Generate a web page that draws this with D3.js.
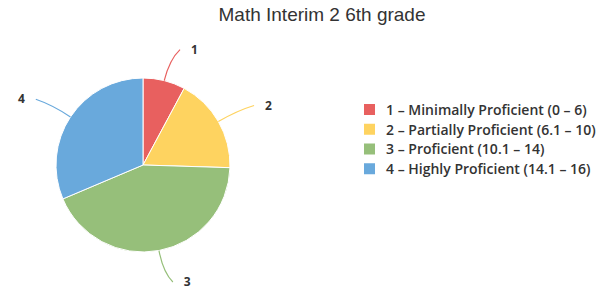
<!DOCTYPE html>
<html>
<head>
<meta charset="utf-8">
<script src="https://cdn.jsdelivr.net/npm/d3@7"></script>
<style>
  body { margin: 0; background: #fff; }
  svg { display: block; }
</style>
</head>
<body>
<svg id="chart"></svg>
<script>
const width = 615, height = 301;

// data
const categories = ["1", "2", "3", "4"];
const legendLabels = [
    "1 \u2013 Minimally Proficient (0 \u2013 6)",
    "2 \u2013 Partially Proficient (6.1 \u2013 10)",
    "3 \u2013 Proficient (10.1 \u2013 14)",
    "4 \u2013 Highly Proficient (14.1 \u2013 16)"
];
const counts = [4, 9, 22, 16];
const colors = ["#e8605f", "#fed360", "#96bf7a", "#69a9dc"];

const data = categories.map((c, i) => ({ id: c, label: legendLabels[i], value: counts[i], color: colors[i] }));

const svg = d3.select("#chart")
    .attr("width", width)
    .attr("height", height);

svg.append("text")
    .attr("x", 322)
    .attr("y", 21)
    .attr("text-anchor", "middle")
    .style("font-family", "Liberation Sans, Arial, sans-serif")
    .style("font-size", "19px")
    .style("fill", "#333")
    .text("Math Interim 2 6th grade");

const cx = 143, cy = 165, r = 87;

const pie = d3.pie().sort(null).value(d => d.value);
const arcs = pie(data);
const arc = d3.arc().innerRadius(0).outerRadius(r);

const g = svg.append("g").attr("transform", `translate(${cx},${cy})`);

g.selectAll("path.slice")
    .data(arcs)
    .join("path")
    .attr("class", "slice")
    .attr("d", arc)
    .attr("fill", d => d.data.color)
    .attr("stroke", "#fff")
    .attr("stroke-width", 1);

// point at radius rr along the slice's middle angle
const polar = (a, rr) => [rr * Math.sin(a), -rr * Math.cos(a)];

const conn = arcs.map(d => {
    const a = (d.startAngle + d.endAngle) / 2;
    const side = Math.sin(a) >= 0 ? 1 : -1;
    const p0 = polar(a, r);
    const p1 = polar(a, r + 22);
    const p2 = polar(a, r + 32);
    p2[0] += 8 * side;
    return { d, side, p0, p1, p2 };
});

g.selectAll("path.connector")
    .data(conn)
    .join("path")
    .attr("class", "connector")
    .attr("d", c => `M${c.p0[0]},${c.p0[1]} Q${c.p1[0]},${c.p1[1]} ${c.p2[0]},${c.p2[1]}`)
    .attr("fill", "none")
    .attr("stroke", c => c.d.data.color)
    .attr("stroke-width", 1.2);

g.selectAll("text.label")
    .data(conn)
    .join("text")
    .attr("class", "label")
    .attr("x", c => c.p2[0] + 11 * c.side)
    .attr("y", c => c.p2[1])
    .attr("dy", "0.35em")
    .attr("text-anchor", c => c.side > 0 ? "start" : "end")
    .style("font-family", "Open Sans, sans-serif")
    .style("font-size", "12px")
    .style("font-weight", "bold")
    .style("fill", "#333")
    .text(c => c.d.data.id);

// legend
const legend = svg.append("g").attr("transform", "translate(364,104)");
const rowY = d3.scaleBand().domain(categories).range([0, 79]);

const item = legend.selectAll("g")
    .data(data)
    .join("g")
    .attr("transform", d => `translate(0,${rowY(d.id)})`);

item.append("rect")
    .attr("width", 11)
    .attr("height", 11)
    .attr("fill", d => d.color);

item.append("text")
    .attr("x", 22)
    .attr("y", 6)
    .attr("dy", "0.35em")
    .style("font-family", "Open Sans, sans-serif")
    .style("font-size", "14px")
    .style("font-weight", "600")
    .style("fill", "#333")
    .text(d => d.label);
</script>
</body>
</html>
